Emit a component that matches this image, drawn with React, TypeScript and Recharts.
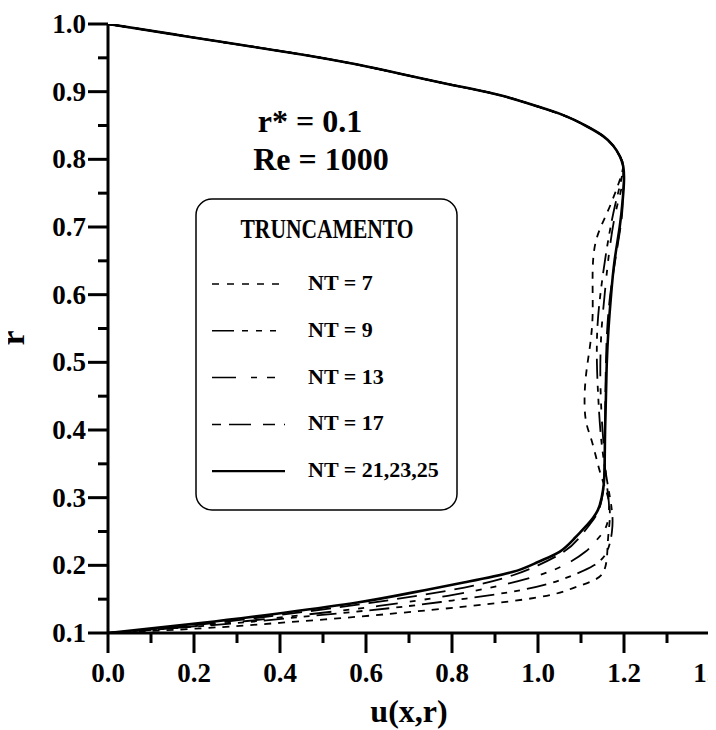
import React from 'react'
import { ScatterChart, Scatter, XAxis, YAxis } from 'recharts'

// common upper branch (all truncations coincide near the outer wall)
const R_TOP = [1.0, 0.985, 0.97, 0.955, 0.94, 0.925, 0.91, 0.895, 0.88, 0.865, 0.85, 0.835, 0.82, 0.805, 0.79]
const U_TOP = [0, 0.15, 0.3, 0.45, 0.58, 0.69, 0.8, 0.91, 0.99, 1.06, 1.11, 1.15, 1.175, 1.19, 1.198]

// lower branches, r going down to the inner wall r* = 0.1
const R_NT7 = [0.76, 0.72, 0.68, 0.63, 0.57, 0.52, 0.47, 0.42, 0.39, 0.36, 0.33, 0.3, 0.27, 0.24, 0.21, 0.19, 0.178, 0.166, 0.155, 0.144, 0.134, 0.124, 0.115, 0.107, 0.1]
const U_NT7 = [1.185, 1.16, 1.135, 1.127, 1.127, 1.12, 1.11, 1.11, 1.122, 1.135, 1.148, 1.163, 1.167, 1.163, 1.16, 1.152, 1.13, 1.08, 1.02, 0.9, 0.75, 0.58, 0.4, 0.22, 0]

const R_NT9 = [0.76, 0.72, 0.66, 0.6, 0.55, 0.5, 0.45, 0.4, 0.36, 0.32, 0.28, 0.25, 0.22, 0.2, 0.185, 0.172, 0.16, 0.148, 0.137, 0.125, 0.112, 0.1]
const U_NT9 = [1.19, 1.175, 1.158, 1.145, 1.138, 1.137, 1.14, 1.145, 1.152, 1.162, 1.172, 1.172, 1.16, 1.13, 1.08, 1.02, 0.93, 0.8, 0.66, 0.47, 0.25, 0]

const R_NT13 = [0.76, 0.72, 0.66, 0.6, 0.55, 0.5, 0.45, 0.4, 0.36, 0.32, 0.29, 0.26, 0.24, 0.22, 0.2, 0.185, 0.17, 0.155, 0.14, 0.125, 0.11, 0.1]
const U_NT13 = [1.195, 1.18, 1.165, 1.155, 1.148, 1.145, 1.146, 1.15, 1.155, 1.16, 1.165, 1.16, 1.14, 1.11, 1.06, 1.0, 0.91, 0.79, 0.63, 0.43, 0.2, 0]

const R_NT17 = [0.77, 0.74, 0.7, 0.6, 0.5, 0.4, 0.32, 0.28, 0.26, 0.24, 0.22, 0.2, 0.185, 0.17, 0.155, 0.14, 0.125, 0.11, 0.1]
const U_NT17 = [1.2, 1.197, 1.192, 1.168, 1.158, 1.156, 1.153, 1.14, 1.12, 1.095, 1.06, 1.0, 0.94, 0.85, 0.72, 0.56, 0.38, 0.18, 0]

const R_NT21 = [0.77, 0.74, 0.7, 0.65, 0.6, 0.55, 0.5, 0.45, 0.4, 0.35, 0.32, 0.3, 0.28, 0.26, 0.24, 0.22, 0.205, 0.19, 0.175, 0.16, 0.145, 0.13, 0.115, 0.1]
const U_NT21 = [1.2, 1.197, 1.19, 1.178, 1.17, 1.164, 1.16, 1.158, 1.156, 1.155, 1.153, 1.148, 1.138, 1.115, 1.085, 1.05, 1.0, 0.94, 0.83, 0.71, 0.58, 0.41, 0.22, 0]

const X_TICKS = [0, 0.1, 0.2, 0.3, 0.4, 0.5, 0.6, 0.7, 0.8, 0.9, 1.0, 1.1, 1.2, 1.3, 1.4]
const Y_TICKS = [0.1, 0.15, 0.2, 0.25, 0.3, 0.35, 0.4, 0.45, 0.5, 0.55, 0.6, 0.65, 0.7, 0.75, 0.8, 0.85, 0.9, 0.95, 1.0]

const FONT = '"Liberation Serif", "Times New Roman", serif'

const toPoints = (r: number[], u: number[]) => {
	const rr = [...R_TOP, ...r]
	const uu = [...U_TOP, ...u]
	return rr.map((v, i) => ({ r: v, u: uu[i] }))
}

const SERIES = [
	{ name: 'NT = 7', r: R_NT7, u: U_NT7, dash: '7 7', legendDash: '7 8', width: 1.8 },
	{ name: 'NT = 9', r: R_NT9, u: U_NT9, dash: '20 7 6 7 6 7', legendDash: '22 8 6 8 6 8 6', width: 1.8 },
	{ name: 'NT = 13', r: R_NT13, u: U_NT13, dash: '22 12 6 9 6 12', legendDash: '24 15 6 10 8', width: 1.8 },
	{ name: 'NT = 17', r: R_NT17, u: U_NT17, dash: '20 9', legendDash: '9 8 22 12 12', width: 1.8 },
	{ name: 'NT = 21,23,25', r: R_NT21, u: U_NT21, dash: undefined, legendDash: undefined, width: 2.6 },
]

const XTick = (props: any) => {
	const { x, y, payload } = props
	const major = Math.round(payload.value * 10) % 2 === 0
	return (
		<g>
			<line x1={x} y1={y} x2={x} y2={y + (major ? 20 : 10)} stroke="#000" strokeWidth={3} />
			{major && (
				<text x={x} y={y + 49} textAnchor="middle" fontFamily={FONT} fontWeight="bold" fontSize={27} fill="#000">
					{payload.value.toFixed(1)}
				</text>
			)}
		</g>
	)
}

const YTick = (props: any) => {
	const { x, y, payload } = props
	const major = Math.round(payload.value * 100) % 10 === 0
	return (
		<g>
			<line x1={x} y1={y} x2={x - (major ? 20 : 10)} y2={y} stroke="#000" strokeWidth={3} />
			{major && (
				<text x={x - 22} y={y + 9} textAnchor="end" fontFamily={FONT} fontWeight="bold" fontSize={27} fill="#000">
					{payload.value.toFixed(1)}
				</text>
			)}
		</g>
	)
}

const App = () => {
	return (
		<ScatterChart width={708} height={722} margin={{ top: 16, right: 6, bottom: 0, left: 0 }}>
			<XAxis
				type="number"
				dataKey="u"
				domain={[0, 1.4]}
				ticks={X_TICKS}
				interval={0}
				height={97}
				tickSize={0}
				tickMargin={0}
				tickLine={false}
				tick={<XTick />}
				axisLine={{ stroke: '#000', strokeWidth: 3 }}
				allowDataOverflow
			/>
			<YAxis
				type="number"
				dataKey="r"
				domain={[0.1, 1.0]}
				ticks={Y_TICKS}
				interval={0}
				width={100}
				tickSize={0}
				tickMargin={0}
				tickLine={false}
				tick={<YTick />}
				axisLine={{ stroke: '#000', strokeWidth: 3 }}
				allowDataOverflow
			/>
			{SERIES.map((s) => (
				<Scatter
					key={s.name}
					name={s.name}
					data={toPoints(s.r, s.u)}
					fill="#000"
					line={{ stroke: '#000', strokeWidth: s.width, strokeDasharray: s.dash }}
					lineJointType="natural"
					shape={() => <g />}
					isAnimationActive={false}
				/>
			))}

			<text x={401} y={714} textAnchor="middle" fontFamily={FONT} fontWeight="bold" fontSize={32} fill="#000">
				u(x,r)
			</text>
			<text x={16} y={330} textAnchor="middle" transform="rotate(-90, 16, 330)" fontFamily={FONT} fontWeight="bold" fontSize={34} fill="#000">
				r
			</text>

			<text x={302} y={124} textAnchor="middle" fontFamily={FONT} fontWeight="bold" fontSize={32} fill="#000">
				r* = 0.1
			</text>
			<text x={313} y={162} textAnchor="middle" fontFamily={FONT} fontWeight="bold" fontSize={32} fill="#000">
				Re = 1000
			</text>

			<g>
				<rect x={188} y={191} width={261} height={311} rx={16} fill="none" stroke="#000" strokeWidth={1.5} />
				<text x={319} y={230} textAnchor="middle" fontFamily={FONT} fontWeight="bold" fontSize={27} textLength={173} lengthAdjust="spacingAndGlyphs" fill="#000">
					TRUNCAMENTO
				</text>
				{SERIES.map((s, i) => (
					<g key={s.name}>
						<line
							x1={204}
							x2={277}
							y1={276 + i * 46.8}
							y2={276 + i * 46.8}
							stroke="#000"
							strokeWidth={s.width - 0.3}
							strokeDasharray={s.legendDash}
						/>
						<text x={300} y={282 + i * 46.8} fontFamily={FONT} fontWeight="bold" fontSize={22} fill="#000">
							{s.name}
						</text>
					</g>
				))}
			</g>
		</ScatterChart>
	)
}

export default App
